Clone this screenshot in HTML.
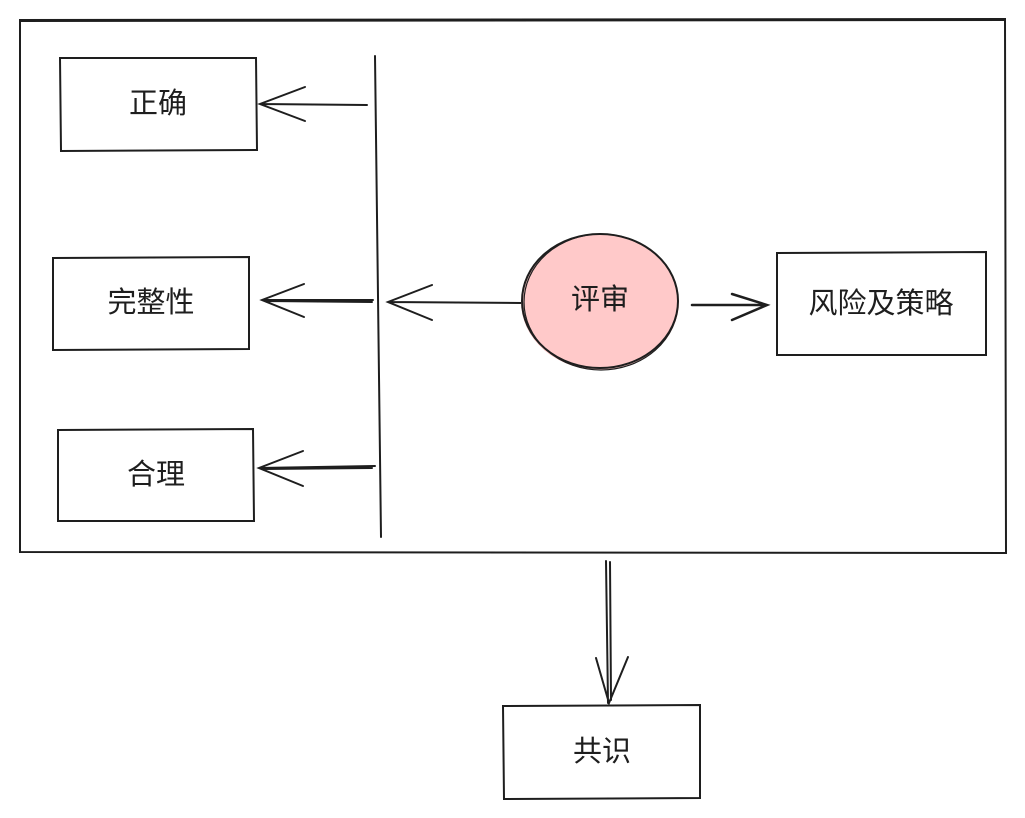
<!DOCTYPE html>
<html><head><meta charset="utf-8"><style>
html,body{margin:0;padding:0;background:#fff;}
svg{display:block}
text{font-family:"Liberation Sans","Noto Sans CJK SC",sans-serif;font-size:29px;fill:#1e1e1e;text-anchor:middle;dominant-baseline:central}
</style></head><body>
<svg width="1025" height="818" viewBox="0 0 1025 818" xmlns="http://www.w3.org/2000/svg">
<g fill="none" stroke="#1e1e1e" stroke-width="2" stroke-linecap="round">
<path d="M20 20 L1005 19 L1006 553 L20 552 Z"/>
<path d="M20 21 L1004 20"/>
<path d="M60 58 L256 58 L257 150 L61 151 Z"/>
<path d="M53 258 L249 257 L249 349 L53 350 Z"/>
<path d="M58 430 L253 429 L254 521 L58 521 Z"/>
<path d="M777 253 L986 252 L986 355 L777 355 Z"/>
<path d="M503 706 L700 705 L700 798 L504 799 Z"/>
<path d="M375 56 L381 537"/>
<path d="M367 105 L260 104 M305 87 L260 104 L305 121"/>
<path d="M373 300 L262 300 M304 284 L262 300 L304 317 M372 302 L266 301"/>
<path d="M375 466 L259 468 M303 451 L259 468 L303 486 M372 468 L262 469"/>
<path d="M522 303 L388 302 M432 285 L388 302 L432 320"/>
<path d="M692 305 L767 305 M732 294 L767 305 L732 320" stroke-width="2.5"/>
<path d="M606 561 L608 703 M610 562 L611 700 M596 658 L609 703 L628 657"/>
</g>
<ellipse cx="600" cy="302" rx="79" ry="68" fill="#ffc9c9"/>
<ellipse cx="600" cy="301" rx="78" ry="67" fill="none" stroke="#1e1e1e" stroke-width="2"/>
<ellipse cx="601" cy="302" rx="77" ry="68" fill="none" stroke="#1e1e1e" stroke-width="1.2"/>
<text x="158" y="104">正确</text>
<text x="151" y="303">完整性</text>
<text x="156" y="475">合理</text>
<text x="600" y="300">评审</text>
<text x="881" y="304">风险及策略</text>
<text x="602" y="752">共识</text>
</svg>
</body></html>
